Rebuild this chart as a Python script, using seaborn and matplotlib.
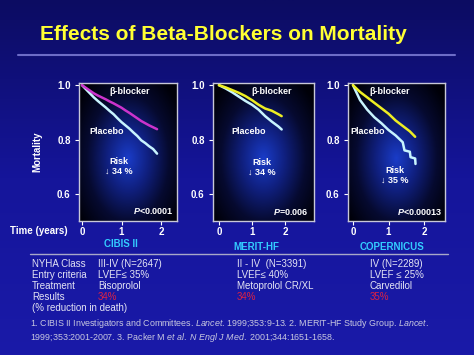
import numpy as np
import pandas as pd
import seaborn as sns
import matplotlib.pyplot as plt
from matplotlib.colors import LinearSegmentedColormap

# data
cibis_t = [0, 0.1, 0.2, 0.3, 0.4, 0.5, 0.6, 0.7, 0.8, 0.9, 1.0, 1.1, 1.2, 1.3, 1.4, 1.5, 1.6, 1.7, 1.8, 1.9]
cibis_bb = [1.0, 0.99, 0.98, 0.97, 0.962, 0.955, 0.948, 0.94, 0.933, 0.925, 0.917, 0.907, 0.898, 0.888, 0.878, 0.868, 0.86, 0.852, 0.845, 0.838]
cibis_pl = [1.0, 0.985, 0.97, 0.955, 0.942, 0.93, 0.918, 0.905, 0.893, 0.878, 0.864, 0.852, 0.84, 0.826, 0.813, 0.797, 0.787, 0.775, 0.765, 0.748]

merit_t = [0, 0.2, 0.4, 0.6, 0.8, 1.0, 1.2, 1.4, 1.6, 1.8, 1.9]
merit_bb = [1.0, 0.992, 0.982, 0.972, 0.96, 0.945, 0.928, 0.914, 0.906, 0.893, 0.886]
merit_pl = [1.0, 0.988, 0.974, 0.958, 0.942, 0.928, 0.91, 0.886, 0.866, 0.848, 0.837]

cop_t_bb = [0, 0.2, 0.4, 0.6, 0.8, 1.0, 1.2, 1.4, 1.6, 1.75]
cop_bb = [1.0, 0.975, 0.955, 0.935, 0.915, 0.895, 0.87, 0.85, 0.83, 0.81]
cop_t_pl = [0, 0.2, 0.4, 0.6, 0.8, 1.0, 1.2, 1.4, 1.45, 1.6, 1.62, 1.75, 1.76]
cop_pl = [1.0, 0.945, 0.91, 0.882, 0.86, 0.835, 0.815, 0.79, 0.76, 0.755, 0.735, 0.73, 0.71]

trials = ["CIBIS II", "MERIT-HF", "COPERNICUS"]
risk_text = ["Risk\n\u2193 34 %", "Risk\n\u2193 34 %", "Risk\n\u2193 35 %"]
p_text = [r"$\mathbfit{P}$<0.0001", r"$\mathbfit{P}$=0.006", r"$\mathbfit{P}$<0.00013"]

row_labels = ["NYHA Class", "Entry criteria", "Treatment", "Results", "(% reduction in death)"]
cibis_info = ["III-IV (N=2647)", "LVEF\u2264 35%", "Bisoprolol", "34%"]
merit_info = ["II - IV  (N=3391)", "LVEF\u2264 40%", "Metoprolol CR/XL", "34%"]
cop_info = ["IV (N=2289)", "LVEF \u2264 25%", "Carvedilol", "35%"]

refs = [r"1. CIBIS II Investigators and Committees. $\it{Lancet}$. 1999;353:9-13. 2. MERIT-HF Study Group. $\it{Lancet}$.",
        r"1999;353:2001-2007. 3. Packer M $\it{et\ al.}$ $\it{N\ Engl\ J\ Med.}$ 2001;344:1651-1658."]

sns.set_style("dark")
plt.rcParams['font.family'] = ['Liberation Sans', 'DejaVu Sans']
plt.rcParams['mathtext.fontset'] = 'custom'
plt.rcParams['mathtext.rm'] = 'Liberation Sans'
plt.rcParams['mathtext.it'] = 'Liberation Sans:italic'
plt.rcParams['mathtext.bf'] = 'Liberation Sans:bold'
plt.rcParams['mathtext.bfit'] = 'Liberation Sans:bold:italic'

W, H = 474, 355
fig = plt.figure(figsize=(W / 100, H / 100), dpi=100)

# slide background
bg = fig.add_axes([0, 0, 1, 1], zorder=-5)
grad = np.linspace(0, 1, 256).reshape(-1, 1)
bg_cmap = LinearSegmentedColormap.from_list("bg", ["#0c0c62", "#15159a", "#1a1aa8"])
bg.imshow(grad, cmap=bg_cmap, aspect='auto', extent=(0, 1, 0, 1), origin='upper')
bg.set_axis_off()

def px(x, y):
    return x / W, 1 - y / H

fig.text(*px(40, 35), "Effects of Beta-Blockers on Mortality", color="#ffff33",
         fontsize=15, fontweight='bold', va='center', ha='left')
bg.plot([18 / W, 455 / W], [1 - 55 / H, 1 - 55 / H], color="#6c6cc8", lw=1.5)

panel_cmap = LinearSegmentedColormap.from_list("pan", ["#1a3cc8", "#102080", "#060a30", "#000008"])
yy, xx = np.mgrid[0:1:200j, 0:1:200j]
rad = np.sqrt(((xx - 0.5) / 0.6) ** 2 + ((yy - 0.45) / 0.65) ** 2)

panels = [
    dict(box=(79, 83, 177, 221), xlim=(-0.076, 2.405), bb=(cibis_t, cibis_bb), pl=(cibis_t, cibis_pl),
         bbc="#cc33cc", bbpos=(130, 92), plpos=(107, 132), riskpos=(119, 166), ppos=(174, 211)),
    dict(box=(213, 83, 314, 221), xlim=(-0.18, 2.88), bb=(merit_t, merit_bb), pl=(merit_t, merit_pl),
         bbc="#eeee22", bbpos=(272, 92), plpos=(249, 132), riskpos=(262, 167), ppos=(309, 212)),
    dict(box=(348, 83, 445, 221), xlim=(-0.14, 2.59), bb=(cop_t_bb, cop_bb), pl=(cop_t_pl, cop_pl),
         bbc="#eeee22", bbpos=(390, 92), plpos=(368, 132), riskpos=(395, 175), ppos=(442, 212)),
]

for i, p in enumerate(panels):
    x0, y0, x1, y1 = p['box']
    ax = fig.add_axes([x0 / W, 1 - y1 / H, (x1 - x0) / W, (y1 - y0) / H])
    ax.imshow(rad, cmap=panel_cmap, vmin=0, vmax=1.05, extent=(0, 1, 0, 1),
              transform=ax.transAxes, aspect='auto', origin='lower', zorder=0)
    df_bb = pd.DataFrame({"t": p['bb'][0], "s": p['bb'][1]})
    df_pl = pd.DataFrame({"t": p['pl'][0], "s": p['pl'][1]})
    sns.lineplot(data=df_pl, x="t", y="s", ax=ax, color="#c8f4ff", lw=1.8, zorder=3)
    sns.lineplot(data=df_bb, x="t", y="s", ax=ax, color=p['bbc'], lw=1.8, zorder=3)
    ax.set_xlim(*p['xlim'])
    ax.set_ylim(0.5, 1.008)
    ax.set_xticks([0, 1, 2])
    ax.set_yticks([0.6, 0.8, 1.0])
    ax.set_yticklabels(["0.6", "0.8", "1.0"])
    ax.tick_params(colors="white", labelsize=7, length=3, width=0.8, pad=3,
                   bottom=True, left=True)
    ax.tick_params(axis='x', pad=1.5)
    for lab in ax.get_xticklabels() + ax.get_yticklabels():
        lab.set_fontweight('bold')
    ax.set_xlabel("")
    ax.set_ylabel("")
    ax.grid(False)
    for s in ax.spines.values():
        s.set_color("#c8c8d8")
        s.set_linewidth(1.0)
        s.set_visible(True)

    def atx(pos):
        return (pos[0] - x0) / (x1 - x0), (y1 - pos[1]) / (y1 - y0)

    ax.text(*atx(p['bbpos']), "\u03b2-blocker", transform=ax.transAxes, color="white",
            fontsize=6.5, fontweight='bold', ha='center', va='center')
    ax.text(*atx(p['plpos']), "Placebo", transform=ax.transAxes, color="white",
            fontsize=6.5, fontweight='bold', ha='center', va='center')
    ax.text(*atx(p['riskpos']), risk_text[i], transform=ax.transAxes, color="white",
            fontsize=6.5, fontweight='bold', ha='center', va='center', linespacing=1.1)
    ax.text(*atx(p['ppos']), p_text[i], transform=ax.transAxes, color="white",
            fontsize=6.5, fontweight='bold', ha='right', va='center')
    if i == 0:
        ax.set_ylabel("Mortality", color="white", fontsize=7, fontweight='bold')
        ax.yaxis.set_label_coords((42 - x0) / (x1 - x0), 0.5)

fig.text(*px(68, 231), "Time (years)", color="white", fontsize=7, fontweight='bold',
         ha='right', va='center')

for name, xc, yc in zip(trials, [121, 256, 392], [244, 247, 247]):
    fig.text(*px(xc, yc), name, color="#33ccff", fontsize=7, fontweight='bold',
             ha='center', va='center')
bg.plot([30 / W, 448 / W], [1 - 254 / H, 1 - 254 / H], color="#a8a8c8", lw=1)

row_y = [264, 275, 286, 297, 308]
for lab, yv in zip(row_labels, row_y):
    fig.text(*px(32, yv), lab, color="#e4e4f4", fontsize=7, ha='left', va='center')
for info, xc in zip([cibis_info, merit_info, cop_info], [98, 237, 370]):
    for j, txt in enumerate(info):
        col = "#dd2244" if j == 3 else "#e4e4f4"
        fig.text(*px(xc, row_y[j]), txt, color=col, fontsize=7, ha='left', va='center')

fig.text(*px(30, 330.5), "\n".join(refs), color="#c8c8e0", fontsize=6.4,
         ha='left', va='center', linespacing=1.05)

bg.set_xlim(0, 1)
bg.set_ylim(0, 1)
fig.savefig("out.png", dpi=100)
